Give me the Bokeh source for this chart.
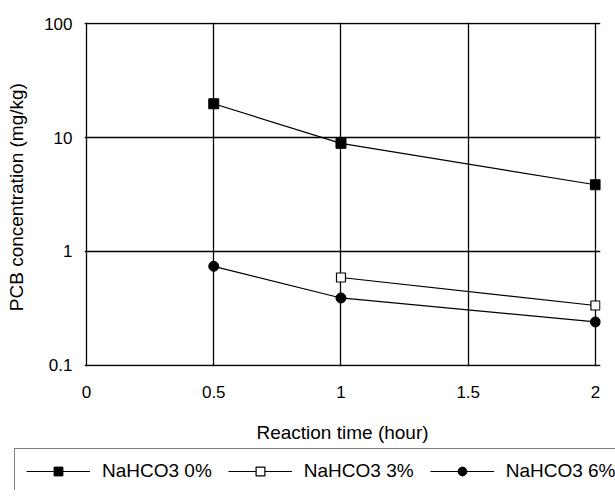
from bokeh.plotting import figure
from bokeh.layouts import column
from bokeh.models import FixedTicker, Legend, LegendItem, Range1d
from bokeh.embed import file_html
from bokeh.resources import INLINE

# ---- data ----
time_0 = [0.5, 1.0, 2.0]
pcb_0 = [19.8, 8.9, 3.85]
time_3 = [1.0, 2.0]
pcb_3 = [0.59, 0.335]
time_6 = [0.5, 1.0, 2.0]
pcb_6 = [0.74, 0.39, 0.24]

x_ticks = [0, 0.5, 1, 1.5, 2]
x_tick_labels = ["0", "0.5", "1", "1.5", "2"]
y_ticks = [0.1, 1, 10, 100]
y_tick_labels = ["0.1", "1", "10", "100"]

series_labels = ["NaHCO3 0%", "NaHCO3 3%", "NaHCO3 6%"]

FONT = "Liberation Sans"

p = figure(width=615, height=446, y_axis_type="log",
           x_range=Range1d(-0.008, 2.02), y_range=Range1d(0.0975, 102.5),
           output_backend="svg", toolbar_location=None,
           min_border_left=84, min_border_right=15,
           min_border_top=22, min_border_bottom=80)
p.frame_align = False
p.outline_line_color = None
p.background_fill_color = "white"
p.border_fill_color = "white"

# axes
p.xaxis.ticker = FixedTicker(ticks=x_ticks)
p.yaxis.ticker = FixedTicker(ticks=y_ticks)
p.xaxis.major_label_overrides = {t: l for t, l in zip(x_ticks, x_tick_labels)}
p.yaxis.major_label_overrides = {t: l for t, l in zip(y_ticks, y_tick_labels)}
for ax in (p.xaxis, p.yaxis):
    ax.axis_line_color = None
    ax.major_tick_line_color = None
    ax.minor_tick_line_color = None
    ax.major_tick_out = 0
    ax.major_tick_in = 0
    ax.minor_tick_out = 0
    ax.minor_tick_in = 0
    ax.major_label_text_font = FONT
    ax.major_label_text_font_size = "17px"
    ax.major_label_text_color = "black"
    ax.axis_label_text_font = FONT
    ax.axis_label_text_font_size = "19px"
    ax.axis_label_text_font_style = "normal"
    ax.axis_label_text_color = "black"

p.xaxis.axis_label = "Reaction time (hour)"
p.xaxis.major_label_standoff = 19
p.xaxis.axis_label_standoff = 21
p.yaxis.axis_label = "PCB concentration  (mg/kg)"
p.yaxis.major_label_standoff = 12
p.yaxis.axis_label_standoff = 14

# grid doubles as frame
p.xgrid.ticker = FixedTicker(ticks=x_ticks)
p.ygrid.ticker = FixedTicker(ticks=y_ticks)
for g in (p.xgrid, p.ygrid):
    g.grid_line_color = "black"
    g.grid_line_alpha = 1.0
    g.grid_line_width = 1.3
p.ygrid.minor_grid_line_color = None

# series
line_kw = dict(line_color="black", line_width=1.2)
m0_kw = dict(marker="square", size=10, fill_color="black", line_color="black")
m3_kw = dict(marker="square", size=9, fill_color="white", line_color="black", line_width=1.2)
m6_kw = dict(marker="circle", size=10, fill_color="black", line_color="black")

p.line(time_0, pcb_0, **line_kw)
p.scatter(time_0, pcb_0, **m0_kw)
p.line(time_3, pcb_3, **line_kw)
p.scatter(time_3, pcb_3, **m3_kw)
p.line(time_6, pcb_6, **line_kw)
p.scatter(time_6, pcb_6, **m6_kw)

# legend strip below the chart (its own small canvas so nothing is clipped);
# its renderers carry the same series but lie outside this strip's ranges
p2 = figure(width=615, height=44, x_range=Range1d(10, 11), y_range=Range1d(1000, 2000),
            x_axis_type=None, y_axis_type=None,
            output_backend="svg", toolbar_location=None,
            min_border_left=0, min_border_right=0, min_border_top=0, min_border_bottom=0)
p2.frame_align = False
p2.outline_line_color = None
p2.grid.visible = False
r0 = [p2.line(time_0, pcb_0, **line_kw), p2.scatter(time_0, pcb_0, **m0_kw)]
r3 = [p2.line(time_3, pcb_3, **line_kw), p2.scatter(time_3, pcb_3, **m3_kw)]
r6 = [p2.line(time_6, pcb_6, **line_kw), p2.scatter(time_6, pcb_6, **m6_kw)]

legend = Legend(items=[
    LegendItem(label=series_labels[0], renderers=r0),
    LegendItem(label=series_labels[1], renderers=r3),
    LegendItem(label=series_labels[2], renderers=r6),
], orientation="horizontal", location=(14, -4))
legend.glyph_width = 64
legend.glyph_height = 22
legend.label_height = 22
legend.label_standoff = 12
legend.spacing = 16
legend.padding = 11
legend.margin = 0
legend.border_line_color = "black"
legend.border_line_width = 1.2
legend.background_fill_alpha = 0
legend.label_text_font = FONT
legend.label_text_font_size = "19px"
legend.label_text_color = "black"
p2.add_layout(legend, "center")

layout = column(p, p2, spacing=0)
open("out.html", "w").write(file_html(layout, INLINE))
